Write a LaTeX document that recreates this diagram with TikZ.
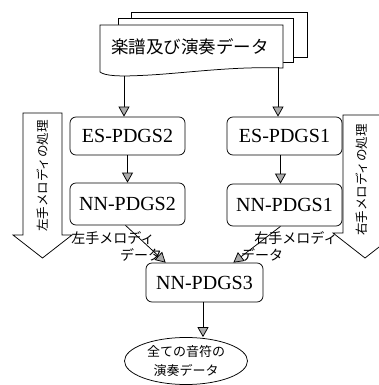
\documentclass[tikz,border=0pt]{standalone}
\usepackage{fontspec}
\setmainfont{Liberation Serif}
\newfontfamily\jp{Noto Sans CJK JP}
\usetikzlibrary{arrows.meta,shapes.geometric}
\begin{document}
\begin{tikzpicture}[x=1pt,y=-1pt,line width=0.75pt,
  box/.style={draw, rounded corners=6pt, minimum width=115pt, minimum height=40pt, inner sep=0pt, font=\fontsize{20}{22}\selectfont},
  arr/.style={-{Triangle[length=10pt,width=11pt,fill=gray!65]}},
  jlab/.style={font=\jp\fontsize{14}{16}\selectfont, inner sep=0pt},
  side/.style={font=\jp\fontsize{12.5}{14}\selectfont, inner sep=0pt, rotate=90}]
\fill[white] (0,0) rectangle (379,385);
\useasboundingbox (0,0) rectangle (379,385);
\clip (0,0) rectangle (379,385);
% stacked document
\draw (131,18) -- (131,12) -- (307,12) -- (307,57) -- (293,57);
\draw[fill=white] (118,25) -- (118,18) -- (293,18) -- (293,62) -- (283,62);
\draw[fill=white] (100,25) -- (283,25) -- (283,68) .. controls (230,66) and (180,74) .. (140,75.5) .. controls (120,76.5) and (105,76) .. (100,72) -- cycle;
\node[font=\jp\fontsize{17.5}{19}\selectfont, inner sep=0pt] (doc) at (190,47) {楽譜及び演奏データ};
\coordinate (dl) at (124,76);
\coordinate (dr) at (278,67.5);
% boxes
\node[box, minimum height=38pt] (es2) at (127.5,136) {ES-PDGS2};
\node[box, minimum height=38pt] (es1) at (284.5,136) {ES-PDGS1};
\node[box, minimum height=42pt] (nn2) at (127.5,204) {NN-PDGS2};
\node[box, minimum height=42pt] (nn1) at (284.5,205) {NN-PDGS1};
\node[box, minimum width=117pt, minimum height=39pt] (nn3) at (204.5,282.5) {NN-PDGS3};
\node[draw, ellipse, minimum width=123pt, minimum height=47pt, inner sep=0pt, align=center, font=\jp\fontsize{13}{19}\selectfont] (out) at (186,361) {全ての音符の\\演奏データ};
% side arrows
\draw[fill=white] (23,113) -- (62,113) -- (62,235) -- (72,235) -- (42.5,258) -- (13,235) -- (23,235) -- cycle;
\node[side] (lside) at (42.5,176) {左手メロディの処理};
\draw[fill=white] (343,115) -- (387,115) -- (387,233) -- (397,233) -- (365,258) -- (333,233) -- (343,233) -- cycle;
\node[side] (rside) at (362,180) {右手メロディの処理};
% labels
\node[jlab] (ll1) at (113,238) {左手メロディ};
\node[jlab] (ll2) at (141,255) {データ};
\node[jlab] (rl1) at (296,238) {右手メロディ};
\node[jlab] (rl2) at (262,255) {データ};
% connectors
\draw[arr] (dl) -- (dl |- es2.north);
\draw[arr] (dr) -- (dr |- es1.north);
\draw[arr] (es2.south) -- (nn2.north);
\draw[arr] ([xshift=-4pt]es1.south) -- ([xshift=-4pt]nn1.north);
\draw[arr] ([xshift=-2pt]nn2.south) -- ([xshift=20pt]nn3.north west);
\draw[arr] ([xshift=-4pt]nn1.south) -- ([xshift=-30pt]nn3.north east);
\draw[arr] ([xshift=-1.5pt]nn3.south) -- ([xshift=-1.5pt]nn3.south |- out.north);
\end{tikzpicture}
\end{document}
